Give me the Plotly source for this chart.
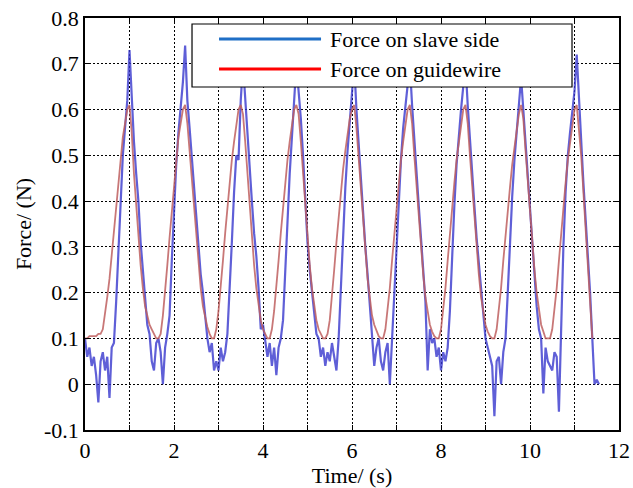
import numpy as np
import plotly.graph_objects as go

# ---- data ----
red_t = np.round(np.arange(0, 11.401, 0.05), 2)
red_force = [
    0.10, 0.10, 0.105, 0.105, 0.105, 0.105, 0.11, 0.11, 0.12, 0.15,   # 0.00-0.45
    0.19, 0.23, 0.28, 0.33, 0.39, 0.44, 0.49, 0.54, 0.57, 0.60,       # 0.50-0.95
    0.61, 0.55, 0.46, 0.39, 0.32, 0.26, 0.21, 0.17, 0.15, 0.13,       # 1.00-1.45
    0.12, 0.11, 0.10, 0.10, 0.11, 0.15, 0.20, 0.26, 0.32, 0.38,       # 1.50-1.95
    0.44, 0.49, 0.54, 0.57, 0.60, 0.61, 0.57, 0.51, 0.45, 0.38,       # 2.00-2.45
    0.32, 0.26, 0.21, 0.17, 0.145, 0.125, 0.11, 0.10, 0.10, 0.12,     # 2.50-2.95
    0.16, 0.21, 0.27, 0.33, 0.39, 0.44, 0.49, 0.53, 0.57, 0.60,       # 3.00-3.45
    0.61, 0.59, 0.53, 0.46, 0.39, 0.32, 0.26, 0.21, 0.17, 0.14,       # 3.50-3.95
    0.12, 0.11, 0.10, 0.10, 0.12, 0.16, 0.21, 0.27, 0.33, 0.39,       # 4.00-4.45
    0.44, 0.49, 0.53, 0.57, 0.60, 0.61, 0.59, 0.53, 0.46, 0.39,       # 4.50-4.95
    0.32, 0.26, 0.21, 0.17, 0.14, 0.12, 0.11, 0.10, 0.10, 0.11,       # 5.00-5.45
    0.14, 0.19, 0.25, 0.31, 0.37, 0.42, 0.47, 0.51, 0.55, 0.58,       # 5.50-5.95
    0.60, 0.61, 0.56, 0.49, 0.42, 0.35, 0.29, 0.23, 0.19, 0.15,       # 6.00-6.45
    0.13, 0.115, 0.105, 0.10, 0.10, 0.12, 0.16, 0.21, 0.27, 0.33,     # 6.50-6.95
    0.39, 0.44, 0.49, 0.53, 0.57, 0.60, 0.61, 0.57, 0.50, 0.43,       # 7.00-7.45
    0.36, 0.30, 0.24, 0.19, 0.155, 0.13, 0.115, 0.105, 0.10, 0.10,    # 7.50-7.95
    0.12, 0.16, 0.21, 0.27, 0.33, 0.39, 0.44, 0.49, 0.53, 0.57,       # 8.00-8.45
    0.60, 0.61, 0.57, 0.50, 0.43, 0.36, 0.30, 0.24, 0.19, 0.155,      # 8.50-8.95
    0.13, 0.115, 0.105, 0.10, 0.10, 0.12, 0.16, 0.21, 0.27, 0.33,     # 9.00-9.45
    0.38, 0.43, 0.48, 0.52, 0.56, 0.59, 0.61, 0.58, 0.51, 0.44,       # 9.50-9.95
    0.37, 0.31, 0.25, 0.20, 0.16, 0.13, 0.115, 0.10, 0.10, 0.10,      # 10.00-10.45
    0.12, 0.16, 0.21, 0.27, 0.33, 0.39, 0.44, 0.49, 0.53, 0.57,       # 10.50-10.95
    0.60, 0.61, 0.56, 0.50, 0.42, 0.34, 0.26, 0.17, 0.10,             # 11.00-11.40
]

blue_t = np.round(np.arange(0, 11.551, 0.05), 2)
blue_force = [
    0.10, 0.06, 0.08, 0.04, 0.06, 0.02, -0.04, 0.05, 0.07, 0.03,     # 0.00-0.45
    0.06, -0.03, 0.08, 0.09, 0.18, 0.30, 0.40, 0.50, 0.56, 0.62,     # 0.50-0.95
    0.73, 0.62, 0.53, 0.46, 0.40, 0.31, 0.25, 0.20, 0.13, 0.11,      # 1.00-1.45
    0.05, 0.03, 0.09, 0.10, 0.07, 0.00, 0.08, 0.11, 0.15, 0.27,      # 1.50-1.95
    0.38, 0.48, 0.55, 0.60, 0.66, 0.74, 0.62, 0.56, 0.50, 0.43,      # 2.00-2.45
    0.36, 0.30, 0.24, 0.20, 0.15, 0.10, 0.07, 0.09, 0.03, 0.05,      # 2.50-2.95
    0.03, 0.08, 0.05, 0.07, 0.11, 0.20, 0.31, 0.42, 0.50, 0.49,      # 3.00-3.45
    0.62, 0.70, 0.62, 0.55, 0.48, 0.40, 0.33, 0.28, 0.21, 0.12,      # 3.50-3.95
    0.13, 0.10, 0.06, 0.09, 0.04, 0.08, 0.02, 0.08, 0.10, 0.14,      # 4.00-4.45
    0.26, 0.37, 0.46, 0.54, 0.61, 0.70, 0.64, 0.58, 0.50, 0.40,      # 4.50-4.95
    0.31, 0.25, 0.20, 0.15, 0.11, 0.10, 0.06, 0.08, 0.04, 0.07,      # 5.00-5.45
    0.05, 0.09, 0.06, 0.03, 0.10, 0.22, 0.33, 0.43, 0.51, 0.58,      # 5.50-5.95
    0.63, 0.70, 0.60, 0.52, 0.45, 0.37, 0.30, 0.24, 0.18, 0.12,      # 6.00-6.45
    0.04, 0.08, 0.10, 0.05, 0.03, 0.07, 0.09, 0.00, 0.10, 0.18,      # 6.50-6.95
    0.30, 0.40, 0.49, 0.56, 0.61, 0.66, 0.70, 0.61, 0.53, 0.46,      # 7.00-7.45
    0.39, 0.32, 0.25, 0.18, 0.03, 0.12, 0.09, 0.10, 0.06, 0.08,      # 7.50-7.95
    0.03, 0.07, 0.05, 0.08, 0.16, 0.29, 0.39, 0.48, 0.55, 0.60,      # 8.00-8.45
    0.65, 0.70, 0.61, 0.53, 0.46, 0.39, 0.32, 0.26, 0.20, 0.15,      # 8.50-8.95
    0.10, 0.08, 0.06, 0.04, -0.07, 0.05, 0.06, 0.00, 0.07, 0.10,     # 9.00-9.45
    0.20, 0.31, 0.41, 0.49, 0.56, 0.61, 0.67, 0.60, 0.52, 0.44,      # 9.50-9.95
    0.37, 0.30, 0.23, 0.17, 0.12, 0.10, -0.02, 0.08, 0.05, 0.04,     # 10.00-10.45
    0.03, 0.07, 0.06, -0.06, 0.15, 0.30, 0.42, 0.50, 0.55, 0.60,     # 10.50-10.95
    0.64, 0.72, 0.62, 0.53, 0.44, 0.36, 0.29, 0.20, 0.10, 0.00,      # 11.00-11.45
    0.01, 0.00,                                                      # 11.50-11.55
]

x_tick_vals = list(range(0, 13))
x_tick_text = ["0", "", "2", "", "4", "", "6", "", "8", "", "10", "", "12"]
y_tick_vals = [-0.1, 0, 0.1, 0.2, 0.3, 0.4, 0.5, 0.6, 0.7, 0.8]
y_tick_text = ["-0.1", "0", "0.1", "0.2", "0.3", "0.4", "0.5", "0.6", "0.7", "0.8"]
legend_names = ["Force on slave side", "Force on guidewire"]
legend_colors = ["#1f6fc6", "#ff0000"]

FONT = "Liberation Serif, Times New Roman, serif"

fig = go.Figure()
fig.add_trace(go.Scatter(x=blue_t, y=blue_force, mode="lines", name=legend_names[0],
                         line=dict(color="rgba(55,55,205,0.80)", width=2.2), showlegend=False))
fig.add_trace(go.Scatter(x=red_t, y=red_force, mode="lines", name=legend_names[1],
                         line=dict(color="rgba(190,95,95,0.85)", width=1.8), showlegend=False))

axis_common = dict(
    showline=True, linecolor="black", linewidth=1.5, mirror="ticks",
    ticks="inside", ticklen=5, tickcolor="black", tickwidth=1,
    showgrid=True, gridcolor="black", gridwidth=1, griddash="2px,2px",
    zeroline=False, automargin=False,
    tickfont=dict(family=FONT, size=22, color="black"),
)
fig.update_xaxes(range=[0, 12], tickvals=x_tick_vals, ticktext=x_tick_text,
                 title=dict(text="Time/ (s)", font=dict(family=FONT, size=22, color="black"), standoff=6),
                 **axis_common)
fig.update_yaxes(range=[-0.1, 0.8], tickvals=y_tick_vals, ticktext=y_tick_text,
                 title=dict(text="Force/ (N)", font=dict(family=FONT, size=22, color="black"), standoff=6),
                 **axis_common)

# legend box drawn by hand (long sample lines like the reference)
fig.add_shape(type="rect", xref="paper", yref="paper", x0=0.2004, x1=0.912, y0=0.8325, y1=0.9854,
              line=dict(color="black", width=1.2), fillcolor="white", layer="above")
for i, (nm, col) in enumerate(zip(legend_names, legend_colors)):
    yy = 0.949 - i * 0.073
    fig.add_shape(type="line", xref="paper", yref="paper", x0=0.251, x1=0.442, y0=yy, y1=yy,
                  line=dict(color=col, width=3), layer="above")
    fig.add_annotation(xref="paper", yref="paper", x=0.455, y=yy, text=nm, showarrow=False,
                       xanchor="left", yanchor="middle",
                       font=dict(family=FONT, size=22, color="black"))

fig.update_layout(
    width=633, height=488,
    margin=dict(l=85, r=14, t=18, b=58),
    paper_bgcolor="white", plot_bgcolor="white",
    showlegend=False,
)
fig.write_html("out.html", config={"displayModeBar": False},
               post_script="document.body.style.margin='0';document.body.style.overflow='hidden';")
